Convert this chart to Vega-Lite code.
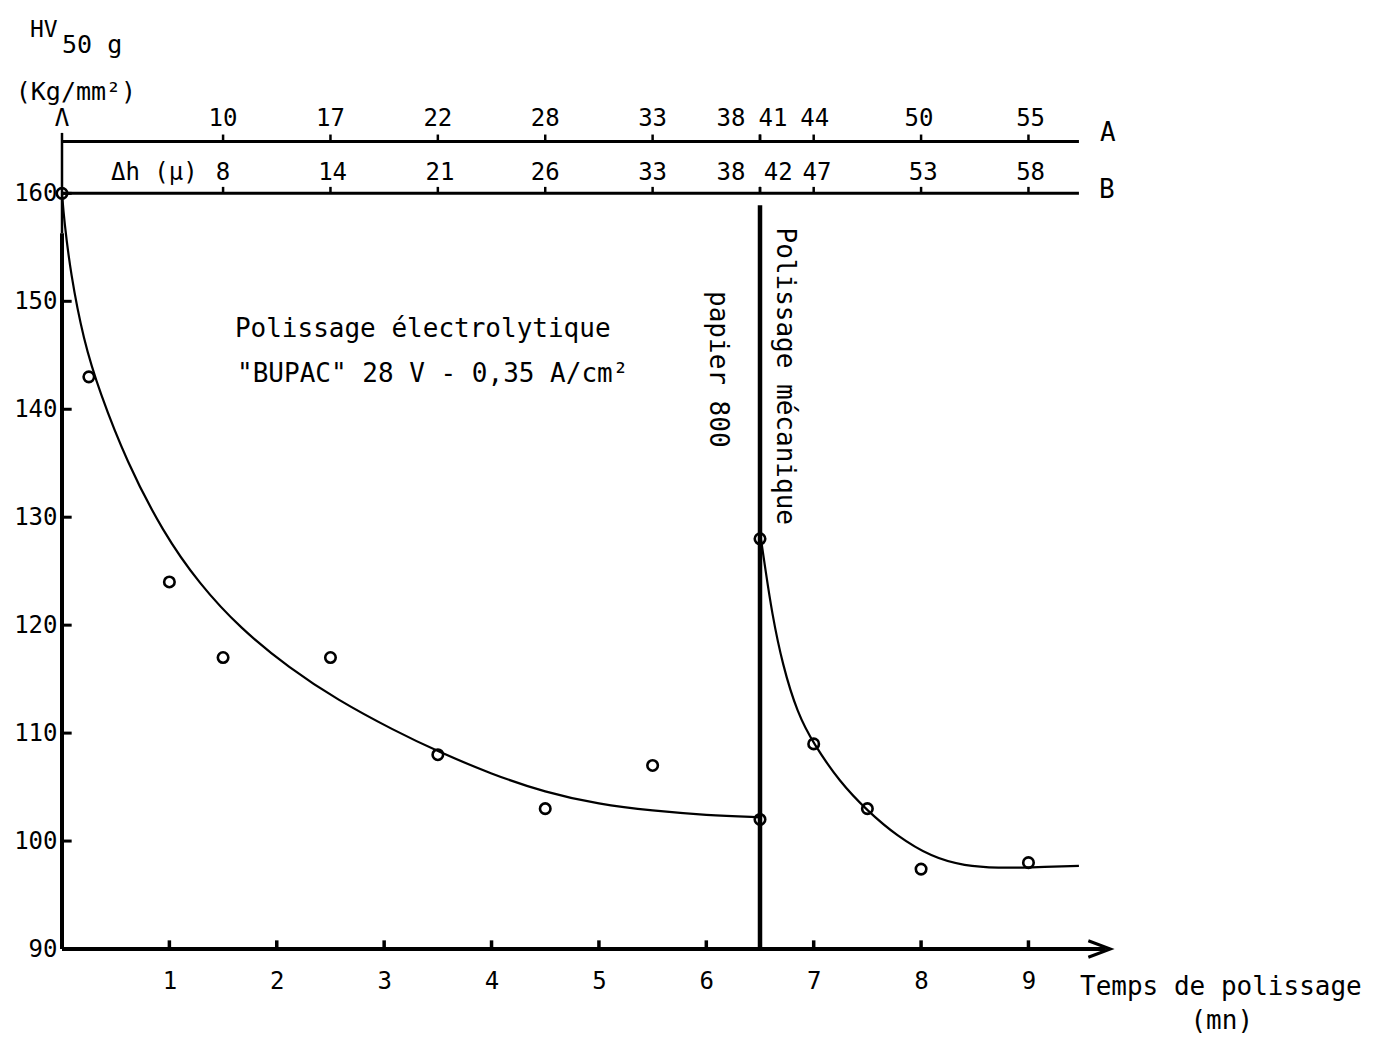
{
  "$schema": "https://vega.github.io/schema/vega-lite/v6.json",
  "width": 1047,
  "height": 842,
  "autosize": {"type": "none"},
  "padding": {"left": 62, "top": 107, "right": 267, "bottom": 88},
  "background": "white",
  "config": {
    "view": {"stroke": null},
    "font": "DejaVu Sans Mono",
    "text": {"font": "DejaVu Sans Mono", "color": "black"},
    "axis": {"labelFont": "DejaVu Sans Mono", "labelColor": "black", "ticks": false, "grid": false, "domain": false, "title": null}
  },
  "datasets": {
    "points": [
      {"t": 0, "hv": 160}, {"t": 0.25, "hv": 143}, {"t": 1, "hv": 124}, {"t": 1.5, "hv": 117},
      {"t": 2.5, "hv": 117}, {"t": 3.5, "hv": 108}, {"t": 4.5, "hv": 103}, {"t": 5.5, "hv": 107},
      {"t": 6.5, "hv": 102}, {"t": 6.5, "hv": 128}, {"t": 7, "hv": 109}, {"t": 7.5, "hv": 103},
      {"t": 8, "hv": 97.4}, {"t": 9, "hv": 98}
    ],
    "curves": [
      {"c": "electro", "t": 0, "hv": 160}, {"c": "electro", "t": 0.02, "hv": 157.5},
      {"c": "electro", "t": 0.08, "hv": 152.6}, {"c": "electro", "t": 0.2, "hv": 146.4},
      {"c": "electro", "t": 0.35, "hv": 141.6}, {"c": "electro", "t": 0.6, "hv": 135.2},
      {"c": "electro", "t": 0.94, "hv": 128.6}, {"c": "electro", "t": 1.28, "hv": 123.8},
      {"c": "electro", "t": 1.66, "hv": 119.7}, {"c": "electro", "t": 2.12, "hv": 116.0},
      {"c": "electro", "t": 2.56, "hv": 113.1}, {"c": "electro", "t": 3.1, "hv": 110.2},
      {"c": "electro", "t": 3.5, "hv": 108.3}, {"c": "electro", "t": 4.0, "hv": 106.2},
      {"c": "electro", "t": 4.5, "hv": 104.5}, {"c": "electro", "t": 5.0, "hv": 103.4},
      {"c": "electro", "t": 5.5, "hv": 102.8}, {"c": "electro", "t": 6.0, "hv": 102.4},
      {"c": "electro", "t": 6.5, "hv": 102.2},
      {"c": "meca", "t": 6.51, "hv": 127.9}, {"c": "meca", "t": 6.55, "hv": 125.2},
      {"c": "meca", "t": 6.61, "hv": 121.2}, {"c": "meca", "t": 6.71, "hv": 116.3},
      {"c": "meca", "t": 6.85, "hv": 111.8}, {"c": "meca", "t": 7.0, "hv": 109.0},
      {"c": "meca", "t": 7.24, "hv": 105.5}, {"c": "meca", "t": 7.5, "hv": 102.8},
      {"c": "meca", "t": 7.77, "hv": 100.5}, {"c": "meca", "t": 8.1, "hv": 98.5},
      {"c": "meca", "t": 8.4, "hv": 97.7}, {"c": "meca", "t": 8.73, "hv": 97.5},
      {"c": "meca", "t": 9.0, "hv": 97.55}, {"c": "meca", "t": 9.47, "hv": 97.7}
    ],
    "yticks": [{"v": 100}, {"v": 110}, {"v": 120}, {"v": 130}, {"v": 140}, {"v": 150}, {"v": 160}],
    "xticks": [{"v": 1}, {"v": 2}, {"v": 3}, {"v": 4}, {"v": 5}, {"v": 6}, {"v": 7}, {"v": 8}, {"v": 9}],
    "scaleA": [
      {"t": 1.5, "tick": 1.5, "label": "10"}, {"t": 2.5, "tick": 2.5, "label": "17"},
      {"t": 3.5, "tick": 3.5, "label": "22"}, {"t": 4.5, "tick": 4.5, "label": "28"},
      {"t": 5.5, "tick": 5.5, "label": "33"}, {"t": 6.23, "tick": 6.5, "label": "38"},
      {"t": 6.62, "tick": 6.5, "label": "41"}, {"t": 7.01, "tick": 7, "label": "44"},
      {"t": 7.98, "tick": 8, "label": "50"}, {"t": 9.02, "tick": 9, "label": "55"}
    ],
    "scaleB": [
      {"t": 1.5, "tick": 1.5, "label": "8"}, {"t": 2.52, "tick": 2.5, "label": "14"},
      {"t": 3.52, "tick": 3.5, "label": "21"}, {"t": 4.5, "tick": 4.5, "label": "26"},
      {"t": 5.5, "tick": 5.5, "label": "33"}, {"t": 6.23, "tick": 6.5, "label": "38"},
      {"t": 6.67, "tick": 6.5, "label": "42"}, {"t": 7.03, "tick": 7, "label": "47"},
      {"t": 8.02, "tick": 8, "label": "53"}, {"t": 9.02, "tick": 9, "label": "58"}
    ]
  },
  "layer": [
    {
      "data": {"name": "points"},
      "mark": {"type": "point", "filled": false, "size": 110, "strokeWidth": 2.6, "color": "black", "opacity": 1},
      "encoding": {
        "x": {"field": "t", "type": "quantitative", "scale": {"domain": [0, 9.75], "nice": false, "zero": false},
          "axis": {"values": [1, 2, 3, 4, 5, 6, 7, 8, 9], "format": "d", "labelFontSize": 24, "labelPadding": 20, "labelAngle": 0}},
        "y": {"field": "hv", "type": "quantitative", "scale": {"domain": [90, 168], "nice": false, "zero": false},
          "axis": {"values": [90, 100, 110, 120, 130, 140, 150, 160], "format": "d", "labelFontSize": 24, "labelPadding": 5}}
      }
    },
    {
      "data": {"name": "curves"},
      "mark": {"type": "line", "interpolate": "basis", "color": "black", "strokeWidth": 2.2},
      "encoding": {
        "x": {"field": "t", "type": "quantitative"},
        "y": {"field": "hv", "type": "quantitative"},
        "detail": {"field": "c"}
      }
    },
    {
      "data": {"name": "yticks"},
      "mark": {"type": "rule", "color": "black", "strokeWidth": 3},
      "encoding": {
        "y": {"field": "v", "type": "quantitative"},
        "x": {"datum": 0},
        "x2": {"datum": 0.09}
      }
    },
    {
      "data": {"name": "xticks"},
      "mark": {"type": "rule", "color": "black", "strokeWidth": 3.5},
      "encoding": {
        "x": {"field": "v", "type": "quantitative"},
        "y": {"datum": 90},
        "y2": {"datum": 90.8}
      }
    },
    {
      "data": {"name": "scaleA"},
      "mark": {"type": "rule", "color": "black", "strokeWidth": 2.5},
      "encoding": {
        "x": {"field": "tick", "type": "quantitative"},
        "y": {"datum": 164.81},
        "y2": {"datum": 165.45}
      }
    },
    {
      "data": {"name": "scaleB"},
      "mark": {"type": "rule", "color": "black", "strokeWidth": 2.5},
      "encoding": {
        "x": {"field": "tick", "type": "quantitative"},
        "y": {"datum": 160},
        "y2": {"datum": 160.6}
      }
    },
    {
      "data": {"name": "scaleA"},
      "mark": {"type": "text", "fontSize": 24, "baseline": "middle", "align": "center"},
      "encoding": {
        "x": {"field": "t", "type": "quantitative"},
        "y": {"datum": 166.9},
        "text": {"field": "label"}
      }
    },
    {
      "data": {"name": "scaleB"},
      "mark": {"type": "text", "fontSize": 24, "baseline": "middle", "align": "center"},
      "encoding": {
        "x": {"field": "t", "type": "quantitative"},
        "y": {"datum": 161.9},
        "text": {"field": "label"}
      }
    },
    {
      "data": {"values": [{}]},
      "layer": [
        {"mark": {"type": "rule", "color": "black", "strokeWidth": 3}, "encoding": {"x": {"datum": 0}, "x2": {"datum": 9.47}, "y": {"datum": 164.81}}},
        {"mark": {"type": "rule", "color": "black", "strokeWidth": 3}, "encoding": {"x": {"datum": 0}, "x2": {"datum": 9.47}, "y": {"datum": 160}}},
        {"mark": {"type": "rule", "color": "black", "strokeWidth": 4}, "encoding": {"x": {"datum": 0}, "x2": {"datum": 9.72}, "y": {"datum": 90}}},
        {"mark": {"type": "rule", "color": "black", "strokeWidth": 4}, "encoding": {"x": {"datum": 0}, "y": {"datum": 90}, "y2": {"datum": 156.3}}},
        {"mark": {"type": "rule", "color": "black", "strokeWidth": 2.5}, "encoding": {"x": {"datum": 0}, "y": {"datum": 156.3}, "y2": {"datum": 165.6}}},
        {"mark": {"type": "rule", "color": "black", "strokeWidth": 4.5}, "encoding": {"x": {"datum": 6.5}, "y": {"datum": 90}, "y2": {"datum": 158.9}}},
        {"mark": {"type": "point", "shape": "M-1,-0.75L1,0L-1,0.75", "size": 484, "filled": false, "strokeWidth": 3, "color": "black", "opacity": 1}, "encoding": {"x": {"datum": 9.66}, "y": {"datum": 90}}},
        {"mark": {"type": "text", "text": "Λ", "fontSize": 24, "align": "center", "baseline": "middle"}, "encoding": {"x": {"datum": 0}, "y": {"datum": 166.9}}},
        {"mark": {"type": "text", "text": "HV", "fontSize": 23, "align": "center", "baseline": "middle"}, "encoding": {"x": {"datum": -0.17}, "y": {"datum": 175.1}}},
        {"mark": {"type": "text", "text": "50 g", "fontSize": 25, "align": "left", "baseline": "middle"}, "encoding": {"x": {"datum": 0}, "y": {"datum": 173.7}}},
        {"mark": {"type": "text", "text": "(Kg/mm²)", "fontSize": 25, "align": "center", "baseline": "middle"}, "encoding": {"x": {"datum": 0.13}, "y": {"datum": 169.35}}},
        {"mark": {"type": "text", "text": "Δh (μ)", "fontSize": 24, "align": "center", "baseline": "middle"}, "encoding": {"x": {"datum": 0.86}, "y": {"datum": 161.9}}},
        {"mark": {"type": "text", "text": "A", "fontSize": 26, "align": "center", "baseline": "middle"}, "encoding": {"x": {"datum": 9.74}, "y": {"datum": 165.55}}},
        {"mark": {"type": "text", "text": "B", "fontSize": 26, "align": "center", "baseline": "middle"}, "encoding": {"x": {"datum": 9.73}, "y": {"datum": 160.3}}},
        {"mark": {"type": "text", "text": "Polissage électrolytique", "fontSize": 26, "align": "left", "baseline": "middle"}, "encoding": {"x": {"datum": 1.61}, "y": {"datum": 147.4}}},
        {"mark": {"type": "text", "text": "\"BUPAC\" 28 V - 0,35 A/cm²", "fontSize": 26, "align": "left", "baseline": "middle"}, "encoding": {"x": {"datum": 1.63}, "y": {"datum": 143.24}}},
        {"mark": {"type": "text", "text": "Polissage mécanique", "fontSize": 26, "angle": 90, "align": "center", "baseline": "middle"}, "encoding": {"x": {"datum": 6.73}, "y": {"datum": 143.06}}},
        {"mark": {"type": "text", "text": "papier 800", "fontSize": 26, "angle": 90, "align": "center", "baseline": "middle"}, "encoding": {"x": {"datum": 6.11}, "y": {"datum": 143.7}}},
        {"mark": {"type": "text", "text": "Temps de polissage", "fontSize": 26, "align": "left", "baseline": "middle"}, "encoding": {"x": {"datum": 9.48}, "y": {"datum": 86.48}}},
        {"mark": {"type": "text", "text": "(mn)", "fontSize": 26, "align": "center", "baseline": "middle"}, "encoding": {"x": {"datum": 10.8}, "y": {"datum": 83.33}}}
      ]
    }
  ]
}
